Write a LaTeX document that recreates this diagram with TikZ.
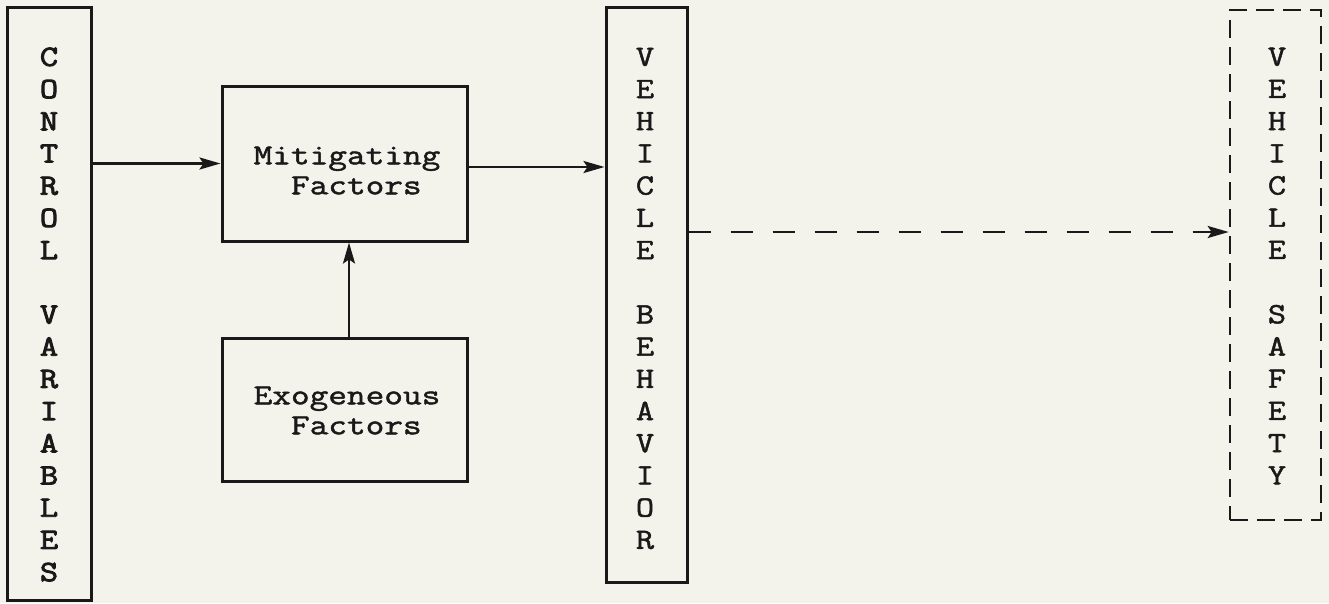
\documentclass[tikz,border=0pt]{standalone}
\usepackage{fontspec}
\newfontfamily\hmono[FakeStretch=1.25, FakeBold=1.6]{Latin Modern Mono}
\newfontfamily\vmono[FakeStretch=1.2, FakeBold=1.6]{Latin Modern Mono}
\newfontfamily\vmonob[FakeStretch=1.2, FakeBold=3]{Latin Modern Mono}
\usetikzlibrary{arrows.meta}
\definecolor{paper}{RGB}{243,243,236}
\definecolor{ink}{RGB}{25,25,25}
\begin{document}
\begin{tikzpicture}[x=1pt,y=-1pt,
  box/.style={draw=ink, line width=3pt, inner sep=0pt},
  dbox/.style={box, line width=2.6pt, dash pattern=on 18pt off 9pt},
  vtext/.style={text=ink, font=\vmono\fontsize{29.5}{32.2}\selectfont, align=center, inner sep=0pt},
  htext/.style={text=ink, font=\hmono\fontsize{29}{30}\selectfont, align=left, inner sep=0pt},
  conn/.style={draw=ink, line width=2.6pt, -{Stealth[length=21pt,width=12pt,inset=4pt]}},
  dconn/.style={conn, dash pattern=on 22pt off 20pt}]
\useasboundingbox[fill=paper] (0,0) rectangle (1329,603);

% Control variables
\node[box, minimum width=84pt, minimum height=593pt] (cv) at (49,303.5) {};
\node[vtext, font=\vmonob\fontsize{29.5}{32.2}\selectfont] (cvt) at (49,314.5)
  {C\\O\\N\\T\\R\\O\\L\\\mbox{}\\V\\A\\R\\I\\A\\B\\L\\E\\S};

% Mitigating factors
\node[box, minimum width=245pt, minimum height=155pt] (mit) at (344.5,163.5) {};
\node[htext] (mitt) at (347,170.5) {Mitigating\\\hphantom{xx}Factors};

% Exogeneous factors
\node[box, minimum width=245pt, minimum height=143pt] (exo) at (344.5,409.5) {};
\node[htext] (exot) at (347,410.5) {Exogeneous\\\hphantom{xx}Factors};

% Vehicle behavior
\node[box, minimum width=81pt, minimum height=575pt] (vb) at (646.5,294.5) {};
\node[vtext] (vbt) at (645,298.5)
  {V\\E\\H\\I\\C\\L\\E\\\mbox{}\\B\\E\\H\\A\\V\\I\\O\\R};

% Vehicle safety
\node[dbox, minimum width=91pt, minimum height=510pt] (vs) at (1275.5,265) {};
\node[vtext] (vst) at (1277,266)
  {V\\E\\H\\I\\C\\L\\E\\\mbox{}\\S\\A\\F\\E\\T\\Y};

% Connectors
\draw[conn] (cv.east |- mit.west) -- (mit.west);
\draw[conn] ([yshift=-3.5pt]mit.east) -- ([yshift=-3.5pt]mit.east -| vb.west);
\draw[conn] ([xshift=4.5pt]exo.north) -- ([xshift=4.5pt]mit.south);
\coordinate (dl) at (0,232);
\draw[dconn] (vb.east |- dl) -- (vs.west |- dl);
\end{tikzpicture}
\end{document}
